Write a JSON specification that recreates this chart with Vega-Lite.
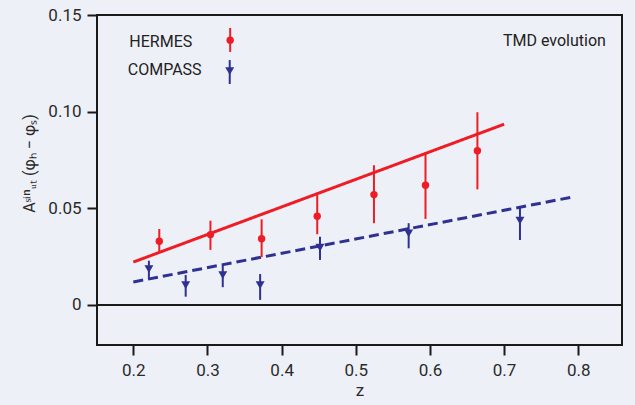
{
  "$schema": "https://vega.github.io/schema/vega-lite/v6.json",
  "width": 525,
  "height": 330,
  "autosize": "none",
  "padding": {"left": 97, "top": 15, "right": 13, "bottom": 60},
  "background": "#eef0f7",
  "config": {
    "view": {"stroke": "#1a1a1a", "strokeWidth": 2},
    "font": "Roboto",
    "axis": {"grid": false, "domain": false, "tickColor": "#1a1a1a", "tickWidth": 2, "tickSize": 10, "labelColor": "#2a2a2a", "titleColor": "#2a2a2a", "labelFont": "Roboto", "titleFont": "Roboto", "labelFontSize": 17, "titleFontWeight": "normal"}
  },
  "datasets": {
    "obs": [
      {"series": "HERMES", "z": 0.235, "A": 0.0330, "lo": 0.0276, "hi": 0.0393},
      {"series": "HERMES", "z": 0.304, "A": 0.0364, "lo": 0.0285, "hi": 0.0436},
      {"series": "HERMES", "z": 0.373, "A": 0.0343, "lo": 0.0247, "hi": 0.0443},
      {"series": "HERMES", "z": 0.448, "A": 0.0459, "lo": 0.0366, "hi": 0.0569},
      {"series": "HERMES", "z": 0.5245, "A": 0.0571, "lo": 0.0423, "hi": 0.0723},
      {"series": "HERMES", "z": 0.594, "A": 0.0619, "lo": 0.0445, "hi": 0.0790},
      {"series": "HERMES", "z": 0.664, "A": 0.0798, "lo": 0.0598, "hi": 0.0997},
      {"series": "COMPASS", "z": 0.221, "A": 0.0186, "lo": 0.0133, "hi": 0.0229},
      {"series": "COMPASS", "z": 0.2706, "A": 0.0103, "lo": 0.0043, "hi": 0.0155},
      {"series": "COMPASS", "z": 0.3206, "A": 0.0155, "lo": 0.0092, "hi": 0.0207},
      {"series": "COMPASS", "z": 0.371, "A": 0.0103, "lo": 0.0026, "hi": 0.0160},
      {"series": "COMPASS", "z": 0.4517, "A": 0.0297, "lo": 0.0233, "hi": 0.0353},
      {"series": "COMPASS", "z": 0.5713, "A": 0.0371, "lo": 0.0293, "hi": 0.0423},
      {"series": "COMPASS", "z": 0.7214, "A": 0.0436, "lo": 0.0336, "hi": 0.0512}
    ],
    "fits": [
      {"series": "HERMES", "z": 0.2, "A": 0.0222},
      {"series": "HERMES", "z": 0.7, "A": 0.0935},
      {"series": "COMPASS", "z": 0.2, "A": 0.0119},
      {"series": "COMPASS", "z": 0.7946, "A": 0.0560}
    ],
    "legend": [
      {"series": "HERMES", "tz": 0.1946, "ty": 0.136, "z": 0.3306, "A": 0.137, "lo": 0.1309, "hi": 0.1433},
      {"series": "COMPASS", "tz": 0.1925, "ty": 0.1214, "z": 0.330, "A": 0.121, "lo": 0.1143, "hi": 0.1267}
    ],
    "notes": [
      {"label": "TMD evolution", "z": 0.8373, "A": 0.1367}
    ]
  },
  "encoding": {
    "x": {"field": "z", "type": "quantitative", "scale": {"domain": [0.151, 0.859], "nice": false, "zero": false},
      "axis": {"values": [0.2, 0.3, 0.4, 0.5, 0.6, 0.7, 0.8], "format": ".1f", "title": "z", "titleFontSize": 17, "labelPadding": 7, "titlePadding": 4}},
    "y": {"field": "A", "type": "quantitative", "scale": {"domain": [-0.0207, 0.15], "nice": false, "zero": false},
      "axis": {"values": [0, 0.05, 0.1, 0.15], "labelExpr": "datum.value == 0 ? '0' : format(datum.value, '.2f')", "labelPadding": 6, "title": "Aˢⁱⁿᵤₜ (φₕ − φₛ)", "titleFontSize": 16, "titlePadding": 10, "titleY": 148}},
    "color": {"field": "series", "type": "nominal", "scale": {"domain": ["HERMES", "COMPASS"], "range": ["#ee1d25", "#2e3192"]}, "legend": null}
  },
  "layer": [
    {
      "data": {"values": [{"A": 0}]},
      "mark": {"type": "rule", "color": "#1a1a1a", "strokeWidth": 2},
      "encoding": {"y": {"field": "A", "type": "quantitative"}, "x": null, "color": null}
    },
    {
      "data": {"name": "fits"},
      "mark": {"type": "line", "strokeWidth": 3},
      "encoding": {
        "strokeDash": {"field": "series", "type": "nominal", "scale": {"domain": ["HERMES", "COMPASS"], "range": [[1, 0], [10, 5]]}, "legend": null}
      }
    },
    {
      "data": {"name": "obs"},
      "mark": {"type": "rule", "strokeWidth": 2},
      "encoding": {"y": {"field": "lo", "type": "quantitative"}, "y2": {"field": "hi"}}
    },
    {
      "data": {"name": "obs"},
      "mark": {"type": "point", "filled": true, "opacity": 1},
      "encoding": {
        "shape": {"field": "series", "type": "nominal", "scale": {"domain": ["HERMES", "COMPASS"], "range": ["circle", "triangle-down"]}, "legend": null},
        "size": {"field": "series", "type": "nominal", "scale": {"domain": ["HERMES", "COMPASS"], "range": [55, 80]}, "legend": null}
      }
    },
    {
      "data": {"name": "legend"},
      "mark": {"type": "rule", "strokeWidth": 2},
      "encoding": {"y": {"field": "lo", "type": "quantitative"}, "y2": {"field": "hi"}}
    },
    {
      "data": {"name": "legend"},
      "mark": {"type": "point", "filled": true, "opacity": 1},
      "encoding": {
        "shape": {"field": "series", "type": "nominal", "scale": {"domain": ["HERMES", "COMPASS"], "range": ["circle", "triangle-down"]}, "legend": null},
        "size": {"field": "series", "type": "nominal", "scale": {"domain": ["HERMES", "COMPASS"], "range": [55, 80]}, "legend": null}
      }
    },
    {
      "data": {"name": "legend"},
      "mark": {"type": "text", "align": "left", "baseline": "middle", "fontSize": 16, "font": "Roboto", "color": "#222222"},
      "encoding": {"x": {"field": "tz", "type": "quantitative"}, "y": {"field": "ty", "type": "quantitative"}, "text": {"field": "series"}, "color": null, "size": null}
    },
    {
      "data": {"name": "notes"},
      "mark": {"type": "text", "align": "right", "baseline": "middle", "fontSize": 16, "font": "Roboto", "color": "#222222"},
      "encoding": {"text": {"field": "label"}, "color": null}
    }
  ]
}
